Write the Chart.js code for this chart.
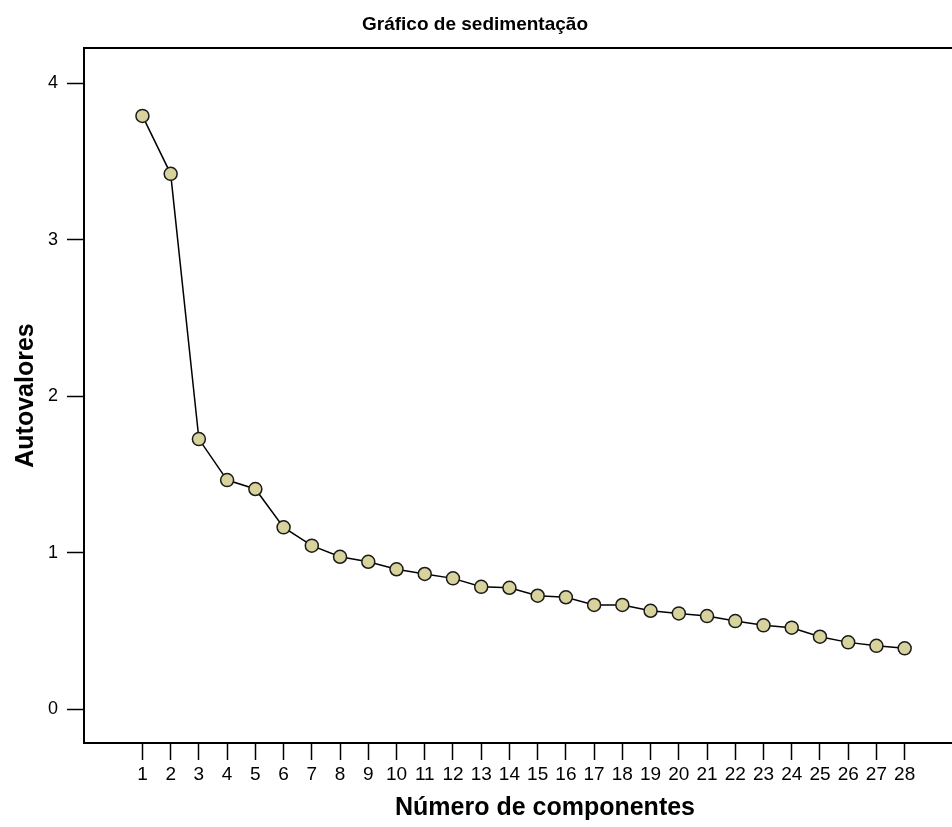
<!DOCTYPE html>
<html>
<head>
<meta charset="utf-8">
<script src="https://cdn.jsdelivr.net/npm/chart.js@4"></script>
<style>
  html, body { margin: 0; padding: 0; background: #fff; overflow: hidden; }
  #wrap { width: 1014px; height: 827px; position: relative; }
</style>
</head>
<body>
<div id="wrap"><canvas id="scree"></canvas></div>
<script>
const chartTitle = 'Gráfico de sedimentação';
const xTitle = 'Número de componentes';
const yTitle = 'Autovalores';

const components = [1, 2, 3, 4, 5, 6, 7, 8, 9, 10, 11, 12, 13, 14,
                    15, 16, 17, 18, 19, 20, 21, 22, 23, 24, 25, 26, 27, 28];
const eigenvalues = [3.79, 3.42, 1.725, 1.463, 1.406, 1.161, 1.044, 0.973, 0.941, 0.893,
                     0.863, 0.835, 0.781, 0.775, 0.724, 0.714, 0.665, 0.665, 0.628, 0.611,
                     0.594, 0.562, 0.535, 0.520, 0.462, 0.426, 0.404, 0.388];
const yTicks = [0, 1, 2, 3, 4];

const FONT = '"Liberation Sans", Arial, sans-serif';

// frame round the plot and the title, drawn after the chart
const framePlugin = {
    id: 'frame',
    afterDraw(chart) {
        const ctx = chart.ctx;
        const a = chart.chartArea;
        ctx.save();
        ctx.strokeStyle = '#000';
        ctx.lineWidth = 2;
        ctx.strokeRect(a.left, a.top, a.right - a.left, a.bottom - a.top);
        ctx.fillStyle = '#000';
        ctx.font = 'bold 19px ' + FONT;
        ctx.textAlign = 'center';
        ctx.textBaseline = 'middle';
        ctx.fillText(chartTitle, 475, 25);
        ctx.restore();
    }
};

const points = components.map((c, i) => ({x: c, y: eigenvalues[i]}));

var ctx = document.getElementById('scree').getContext('2d');
var chart = new Chart(ctx, {
    type: 'line',
    data: {
        datasets: [{
            data: points,
            borderColor: '#000',
            borderWidth: 1.5,
            tension: 0,
            pointRadius: 6.5,
            pointBackgroundColor: '#d8d29c',
            pointBorderColor: '#1a1a1a',
            pointBorderWidth: 1.5
        }]
    },
    options: {
        responsive: true,
        maintainAspectRatio: false,
        animation: false,
        layout: { padding: { top: 48, right: 0, left: 0, bottom: 0 } },
        plugins: {
            legend: { display: false },
            title: { display: false },
            tooltip: { enabled: false }
        },
        scales: {
            x: {
                type: 'linear',
                min: -1.07,
                max: 31.59,
                afterBuildTicks: (scale) => { scale.ticks = components.map(v => ({value: v})); },
                afterFit: (scale) => { scale.height = 84; },
                grid: { display: true, drawOnChartArea: false, drawTicks: true, tickLength: 17, tickColor: '#000', tickWidth: 1.5 },
                border: { display: true, color: '#000', width: 2 },
                ticks: { color: '#000', font: { family: FONT, size: 19 }, padding: 3, maxRotation: 0, autoSkip: false },
                title: { display: true, text: xTitle, color: '#000', font: { family: FONT, size: 25, weight: 'bold' }, padding: { top: 0, bottom: 4 } }
            },
            y: {
                min: -0.217,
                max: 4.224,
                afterBuildTicks: (scale) => { scale.ticks = yTicks.map(v => ({value: v})); },
                afterFit: (scale) => { scale.width = 84; },
                grid: { display: true, drawOnChartArea: false, drawTicks: true, tickLength: 17, tickColor: '#000', tickWidth: 1.5 },
                border: { display: true, color: '#000', width: 2 },
                ticks: { color: '#000', font: { family: FONT, size: 18 }, padding: 9 },
                title: { display: true, text: yTitle, color: '#000', font: { family: FONT, size: 25, weight: 'bold' }, padding: { top: 11, bottom: 0 } }
            }
        }
    },
    plugins: [framePlugin]
});
</script>
</body>
</html>
